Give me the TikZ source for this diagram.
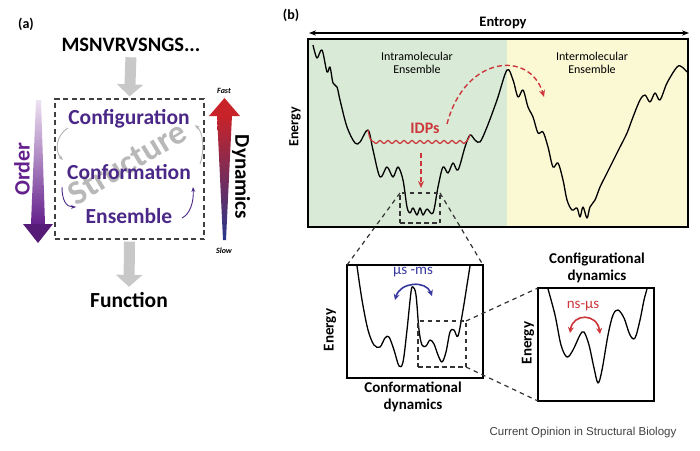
\documentclass[tikz,border=0pt]{standalone}
\usepackage{fontspec}
\setmainfont{Carlito}
\newfontfamily\journalfont{Liberation Sans}
\usetikzlibrary{arrows.meta,positioning,calc}
\definecolor{spurple}{RGB}{75,40,135}
\definecolor{ordertop}{RGB}{238,226,242}
\definecolor{orderbot}{RGB}{100,32,140}
\definecolor{fastred}{RGB}{200,35,40}
\definecolor{slowblue}{RGB}{40,55,140}
\definecolor{bggreen}{RGB}{217,235,214}
\definecolor{bgyellow}{RGB}{251,248,212}
\definecolor{idpred}{RGB}{205,55,60}
\definecolor{usblue}{RGB}{55,55,160}
\definecolor{arrowgray}{RGB}{200,200,200}

\begin{document}
\begin{tikzpicture}[x=1pt, y=-1pt,
    panel_label/.style={font=\fontsize{14}{14}\selectfont\bfseries},
    level_text/.style={text=spurple, font=\fontsize{21.5}{22}\selectfont\bfseries, inner sep=1pt},
    big_arrow/.style={draw=arrowgray, line width=11pt, -{Triangle[width=26pt, length=12pt]}, shorten <=2pt, shorten >=2pt},
    loop_gray/.style={draw=gray!60, line width=0.9pt, -{Stealth[length=5pt]}},
    loop_purple/.style={draw=spurple, line width=0.9pt, -{Stealth[length=5pt]}},
    struct_box/.style={draw=gray!50!black, line width=1.3pt, dash pattern=on 5pt off 3.5pt, minimum width=149pt, minimum height=140pt, inner sep=0pt},
    frame_box/.style={draw=black, line width=1.4pt, inner sep=0pt, outer sep=0pt},
    zoom_box/.style={draw=black!80, line width=1.2pt, dash pattern=on 4.5pt off 3.5pt, inner sep=0pt, outer sep=0pt},
    zoom_line/.style={draw=black!80, line width=1.2pt, dash pattern=on 4.5pt off 4pt},
    landscape/.style={draw=black, line width=1.3pt, line join=round},
    axis_text/.style={font=\fontsize{14}{14}\selectfont\bfseries},
    sub_title/.style={font=\fontsize{15}{17}\selectfont\bfseries, align=center},
    red_dash/.style={draw=idpred, line width=1.4pt, dash pattern=on 5pt off 3pt, -{Stealth[length=7pt, width=6pt]}},
    rate_arrow/.style={line width=1.6pt, {Stealth[length=6pt, width=6pt]}-{Stealth[length=6pt, width=6pt]}}
]
\useasboundingbox (0,0) rectangle (700,450);

% ---------------- panel (a) ----------------
\node[panel_label] (labela) at (26,24) {(a)};
\node[font=\fontsize{20.5}{21}\selectfont\bfseries] (seq) at (131,45) {MSNVRVSNGS...};

\node[struct_box] (sbox) at (129.5,169) {};
\node[text=gray!70, opacity=0.8, rotate=31, font=\fontsize{34}{34}\selectfont\bfseries] (strword) at (127,163) {Structure};

\node[level_text] (config) at (129,119) {Configuration};
\node[level_text] (conform) at (129,172) {Conformation};
\node[level_text] (ensem) at (129,216) {Ensemble};

\node[font=\fontsize{21.5}{22}\selectfont\bfseries] (func) at (129,300) {Function};
\draw[big_arrow] (seq.south) -- (sbox.north);
\draw[big_arrow] (sbox.south) -- (func.north);

% little loops between the levels
\coordinate (g1) at (68,128);
\coordinate (g2) at (63,160);
\coordinate (g3) at (200,164);
\coordinate (g4) at (195,125);
\coordinate (p1) at (62,187);
\coordinate (p2) at (76,207);
\coordinate (p3) at (182,218);
\coordinate (p4) at (193,187);
\draw[loop_gray] (g1) .. controls (55,136) and (55,152) .. (g2);
\draw[loop_gray] (g3) .. controls (205,150) and (203,132) .. (g4);
\draw[loop_purple] (p1) .. controls (62,200) and (66,207) .. (p2);
\draw[loop_purple] (p3) .. controls (190,214) and (194,202) .. (p4);

% order arrow
\shade[top color=ordertop, bottom color=orderbot] (36,100) -- (41,100) -- (45,224) -- (31,224) -- cycle;
\fill[orderbot!85!black] (23,224) -- (53,224) -- (38,243) -- cycle;
\node[rotate=90, text=orderbot, font=\fontsize{22}{22}\selectfont\bfseries] (order) at (22,169) {Order};

% dynamics arrow
\shade[top color=fastred, middle color=white, bottom color=slowblue] (217,115) -- (232,115) -- (226,240) -- (223,240) -- cycle;
\fill[fastred] (209,116) -- (240,116) -- (224.5,98) -- cycle;
\node[font=\fontsize{8}{8}\selectfont\bfseries\itshape] (fast) at (224,91) {Fast};
\node[font=\fontsize{8}{8}\selectfont\bfseries\itshape] (slow) at (224,251) {Slow};
\node[rotate=-90, font=\fontsize{21}{21}\selectfont\bfseries] (dyn) at (241,177) {Dynamics};

% ---------------- panel (b) ----------------
\node[panel_label] (labelb) at (291,15) {(b)};

\fill[bggreen] (308,39) rectangle (507,227);
\fill[bgyellow] (507,39) rectangle (688,227);
\node[frame_box, minimum width=380pt, minimum height=188pt] (land) at (498,133) {};

\node[font=\fontsize{14.5}{15}\selectfont\bfseries] (entropy) at (503,23) {Entropy};
\coordinate (entL) at (309,33);
\coordinate (entR) at (689,33);
\draw[line width=1.1pt, {Stealth[length=7pt]}-{Stealth[length=7pt]}] (entL) -- (entR);

\node[font=\fontsize{12}{13}\selectfont, align=center] (intra) at (417,63) {Intramolecular\\Ensemble};
\node[font=\fontsize{12}{13}\selectfont, align=center] (inter) at (592,63) {Intermolecular\\Ensemble};
\node[axis_text, rotate=90] (energy) at (295,127) {Energy};

% energy landscape
\draw[landscape] plot[smooth, tension=0.55] coordinates {
 (313,45) (317,58) (322,50) (327,72) (330,67) (333,83) (337,87) (340,100)
 (347,127) (355,143) (360,142) (368,130) (373,150) (380,177) (387,167)
 (393,177) (398,167) (403,180) (407,207) (410,213) (413,208) (417,215)
 (420,208) (423,215) (427,209) (433,213) (438,187) (443,167) (448,173)
 (453,163) (458,170) (465,147) (470,135) (475,140) (480,142) (487,127)
 (497,100) (507,70) (513,80) (518,97) (523,90) (528,107) (533,117)
 (538,133) (543,132) (548,147) (553,167) (558,163) (563,180) (567,200)
 (572,210) (577,208) (580,217) (583,207) (587,218) (590,207) (595,200)
 (600,187) (605,177) (610,167) (615,157) (620,147) (627,133) (633,117)
 (640,100) (645,95) (650,102) (655,93) (660,100) (667,83) (677,67)
 (682,67) (687,72)};

% IDP ensemble line
\draw[idpred, line width=1.2pt] (368,130) .. controls (370,140) .. (374,142)
  -- plot[domain=374:464, samples=91] (\x, {142+1.5*sin(45*(\x-374))})
  .. controls (468,140) .. (470,135);
\node[text=idpred, font=\fontsize{16}{16}\selectfont\bfseries] (idps) at (425,128) {IDPs};
\coordinate (dropS) at (421,153);
\coordinate (dropE) at (421,188);
\draw[red_dash] (dropS) -- (dropE);
\coordinate (hopS) at (447,124);
\coordinate (hopE) at (544,97);
\draw[red_dash] (hopS) .. controls (465,55) and (530,50) .. (hopE);

% zoomed panels
\node[zoom_box, minimum width=40pt, minimum height=30pt] (zoomA) at (420,208) {};
\node[frame_box, minimum width=136pt, minimum height=113pt] (panA) at (415,321.5) {};
\draw[zoom_line] (zoomA.north west) -- (panA.north west);
\draw[zoom_line] (zoomA.north east) -- (panA.north east);

\draw[landscape] plot[smooth, tension=0.55] coordinates {
 (357,266) (362,300) (368,330) (374,345) (380,347) (385,338) (389,337)
 (394,350) (399,366) (403,362) (407,330) (411,292) (413,287) (416,295)
 (419,330) (422,345) (426,346) (430,340) (434,344) (438,355) (442,362)
 (446,352) (450,332) (454,330) (458,336) (463,310) (467,285) (470,266)};
\node[text=usblue, font=\fontsize{15}{15}\selectfont] (usms) at (413,272) {μs -ms};
\coordinate (usL) at (395,300);
\coordinate (usR) at (432,296);
\draw[rate_arrow, usblue] (usL) .. controls (400,282) and (426,280) .. (usR);
\node[axis_text, rotate=90, font=\fontsize{15}{15}\selectfont\bfseries] (energyA) at (330,330) {Energy};
\node[sub_title] (conftitle) at (413,397) {Conformational\\dynamics};

\node[zoom_box, minimum width=48pt, minimum height=46pt] (zoomB) at (442,344) {};
\node[frame_box, minimum width=116pt, minimum height=113pt] (panB) at (596,344.5) {};
\draw[zoom_line] (zoomB.north east) -- (panB.north west);
\draw[zoom_line] (zoomB.south east) -- (panB.south west);

\draw[landscape] plot[smooth, tension=0.55] coordinates {
 (548,289) (555,315) (561,345) (567,357) (573,350) (580,335) (584,332)
 (589,345) (594,368) (598,383) (602,370) (608,335) (613,315) (618,310)
 (624,318) (630,335) (635,338) (640,320) (644,300) (647,289)};
\node[text=idpred, font=\fontsize{15}{15}\selectfont] (nsus) at (583,306) {ns-μs};
\coordinate (nsL) at (570,333);
\coordinate (nsR) at (600,334);
\draw[rate_arrow, idpred] (nsL) .. controls (573,313) and (597,313) .. (nsR);
\node[axis_text, rotate=90, font=\fontsize{15}{15}\selectfont\bfseries] (energyB) at (528,343) {Energy};
\node[sub_title] (cfgtitle) at (597,268) {Configurational\\dynamics};

\node[text=black!75, font=\journalfont\fontsize{11.5}{12}\selectfont] (journal) at (583,433) {Current Opinion in Structural Biology};

\end{tikzpicture}
\end{document}
